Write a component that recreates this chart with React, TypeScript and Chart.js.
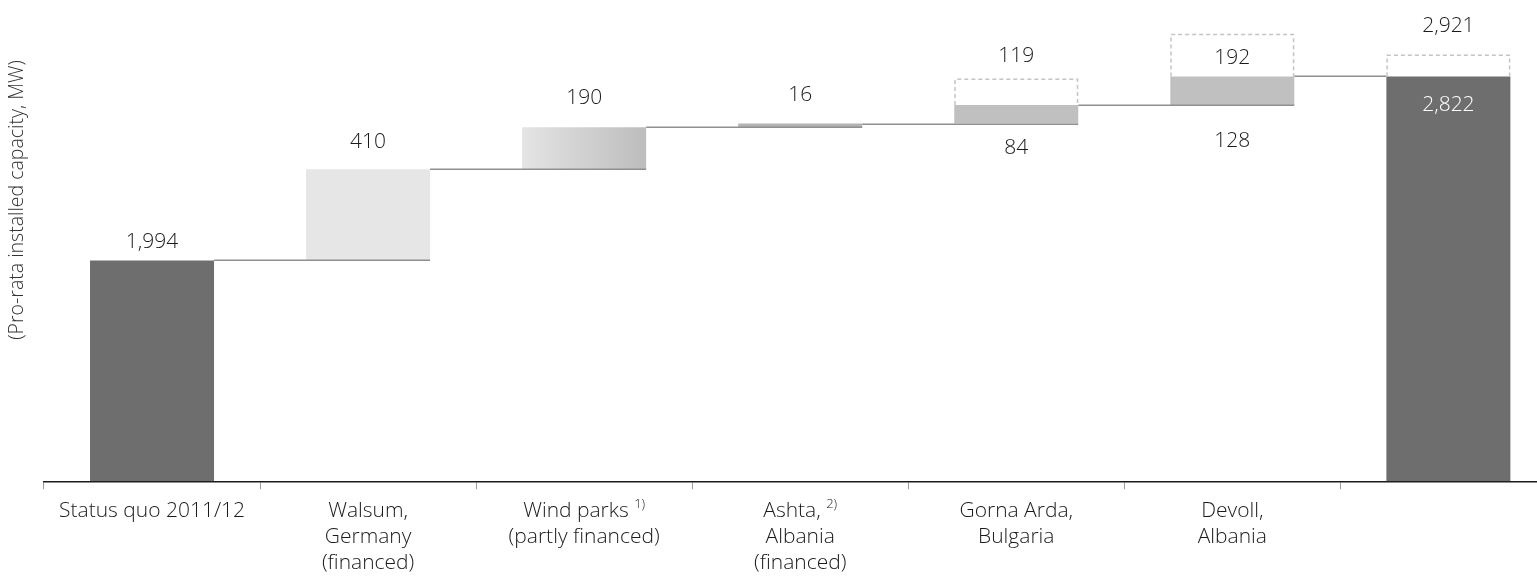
import React, { useEffect, useRef } from "react";
import { Chart, registerables } from "chart.js";

Chart.register(...registerables);

// ---------- data ----------
const CATEGORY_LINES: string[][] = [
  ["Status quo 2011/12"],
  ["Walsum,", "Germany", "(financed)"],
  ["Wind parks", "(partly financed)"],
  ["Ashta,", "Albania", "(financed)"],
  ["Gorna Arda,", "Bulgaria"],
  ["Devoll,", "Albania"],
  [""],
];
const FOOTNOTES: string[] = ["", "", "1)", "2)", "", "", ""];
const IS_TOTAL: boolean[] = [true, false, false, false, false, false, true];
const STEP_VALUES: number[] = [1994, 410, 190, 16, 84, 128, 2822];
const POTENTIAL_VALUES: (number | null)[] = [null, null, null, null, 119, 192, 99];
const UPPER_LABELS: string[] = ["1,994", "410", "190", "16", "119", "192", "2,921"];
const LOWER_LABELS: (string | null)[] = [null, null, null, null, "84", "128", "2,822"];
const Y_MIN = 1000;
const Y_MAX = 3100;
const Y_TITLE = "(Pro-rata installed capacity, MW)";

// ---------- styles ----------
const FONT = "'Open Sans', 'DejaVu Sans', sans-serif";
const BAR_COLORS = ["#6e6e6e", "#e6e6e6", "gradient", "#b4b4b4", "#c0c0c0", "#c0c0c0", "#6e6e6e"];
const UPPER_DY = [-18.5, -27.5, -29.5, -28.5, -22.5, 24.5, -28.5];
const LOWER_DY = [0, 0, 0, 0, 24.5, 36.5, 28.5];
const LOWER_COLORS = ["#1a1a1a", "#1a1a1a", "#1a1a1a", "#1a1a1a", "#1a1a1a", "#1a1a1a", "#ffffff"];

// derived floating ranges
const RANGES: [number, number][] = [];
{
  let run = 0;
  STEP_VALUES.forEach((v, i) => {
    if (IS_TOTAL[i]) {
      RANGES.push([Y_MIN, v]);
      run = v;
    } else {
      RANGES.push([run, run + v]);
      run += v;
    }
  });
}
const DASHED_RANGES: ([number, number] | null)[] = POTENTIAL_VALUES.map((p, i) =>
  p == null ? null : [RANGES[i][1], RANGES[i][1] + p]
);

const overlayPlugin = {
  id: "overlay",
  afterDatasetsDraw(chart: any) {
    const { ctx, chartArea } = chart;
    const xs = chart.scales.x;
    const ys = chart.scales.y;
    const solid = chart.getDatasetMeta(0).data;
    const dashed = chart.getDatasetMeta(1).data;
    ctx.save();

    // connectors
    ctx.strokeStyle = "#909090";
    ctx.lineWidth = 1.5;
    for (let i = 0; i < solid.length - 1; i++) {
      const a = solid[i];
      const b = solid[i + 1];
      const y = Math.round(ys.getPixelForValue(RANGES[i][1])) + 0.25;
      const x1 = a.x + a.width / 2;
      const x2 = IS_TOTAL[i + 1] ? b.x - b.width / 2 : b.x + b.width / 2;
      ctx.beginPath();
      ctx.moveTo(x1, y);
      ctx.lineTo(x2, y);
      ctx.stroke();
    }

    // dashed potential boxes
    ctx.setLineDash([4, 3]);
    ctx.strokeStyle = "#c4c4c4";
    ctx.lineWidth = 1.5;
    dashed.forEach((el: any, i: number) => {
      if (!DASHED_RANGES[i]) return;
      const l = el.x - el.width / 2 + 0.75;
      const r = el.x + el.width / 2 - 0.75;
      const top = el.y + 0.75;
      const bot = el.base;
      ctx.beginPath();
      ctx.moveTo(l, bot);
      ctx.lineTo(l, top);
      ctx.lineTo(r, top);
      ctx.lineTo(r, bot);
      ctx.stroke();
    });
    ctx.setLineDash([]);

    // value labels
    ctx.font = `300 21px ${FONT}`;
    ctx.textAlign = "center";
    ctx.textBaseline = "middle";
    UPPER_LABELS.forEach((lab, i) => {
      const x = xs.getPixelForValue(i);
      const topVal = DASHED_RANGES[i] ? DASHED_RANGES[i]![1] : RANGES[i][1];
      const y = ys.getPixelForValue(topVal) + UPPER_DY[i];
      ctx.fillStyle = "#1a1a1a";
      ctx.fillText(lab, x, y);
    });
    LOWER_LABELS.forEach((lab, i) => {
      if (!lab) return;
      const x = xs.getPixelForValue(i);
      const anchor = IS_TOTAL[i] ? RANGES[i][1] : RANGES[i][0];
      const y = ys.getPixelForValue(anchor) + LOWER_DY[i];
      ctx.fillStyle = LOWER_COLORS[i];
      ctx.fillText(lab, x, y);
    });

    // category labels (with footnote superscripts)
    ctx.textBaseline = "alphabetic";
    const baseY = chartArea.bottom + 35.7;
    const lineH = 26;
    CATEGORY_LINES.forEach((lines, i) => {
      const cx = xs.getPixelForValue(i);
      lines.forEach((line, k) => {
        const y = baseY + k * lineH;
        ctx.font = `300 21px ${FONT}`;
        if (k === 0 && FOOTNOTES[i]) {
          const mainW = ctx.measureText(line + " ").width;
          ctx.font = `300 13px ${FONT}`;
          const supW = ctx.measureText(FOOTNOTES[i]).width;
          const start = cx - (mainW + supW) / 2;
          ctx.textAlign = "left";
          ctx.font = `300 21px ${FONT}`;
          ctx.fillStyle = "#1a1a1a";
          ctx.fillText(line, start, y);
          ctx.font = `300 13px ${FONT}`;
          ctx.fillText(FOOTNOTES[i], start + mainW, y - 9);
          ctx.textAlign = "center";
        } else {
          ctx.textAlign = "center";
          ctx.fillStyle = "#1a1a1a";
          ctx.fillText(line, cx, y);
        }
      });
    });

    // y-axis title
    ctx.save();
    ctx.translate(17, 200);
    ctx.rotate(-Math.PI / 2);
    ctx.font = `300 19.5px ${FONT}`;
    ctx.fillStyle = "#333333";
    ctx.textAlign = "center";
    ctx.textBaseline = "middle";
    ctx.fillText(Y_TITLE, 0, 0);
    ctx.restore();

    ctx.restore();
  },
};

export default function App() {
  const canvasRef = useRef<HTMLCanvasElement | null>(null);

  useEffect(() => {
    if (!canvasRef.current) return;
    const chart = new Chart(canvasRef.current, {
      type: "bar",
      data: {
        labels: CATEGORY_LINES.map((l) => l.join(" ")),
        datasets: [
          {
            label: "Installed",
            data: RANGES as any,
            grouped: false,
            barPercentage: 0.574,
            categoryPercentage: 1,
            borderWidth: 0,
            backgroundColor: (c: any) => {
              const i = c.dataIndex;
              const col = BAR_COLORS[i];
              if (col !== "gradient") return col;
              const chart = c.chart;
              const xs = chart.scales && chart.scales.x;
              if (!xs || !chart.chartArea) return "#d2d2d2";
              const cx = xs.getPixelForValue(i);
              const cw = xs.getPixelForValue(1) - xs.getPixelForValue(0);
              const w = cw * 0.574;
              const g = chart.ctx.createLinearGradient(cx - w / 2, 0, cx + w / 2, 0);
              g.addColorStop(0, "#e4e4e4");
              g.addColorStop(1, "#bdbdbd");
              return g;
            },
          },
          {
            label: "Potential",
            data: DASHED_RANGES as any,
            grouped: false,
            barPercentage: 0.574,
            categoryPercentage: 1,
            borderWidth: 0,
            backgroundColor: "rgba(0,0,0,0)",
          },
        ],
      },
      options: {
        animation: false,
        responsive: true,
        maintainAspectRatio: false,
        layout: { padding: { left: 44, right: 3.6, top: 14.7, bottom: 88.7 } },
        plugins: {
          legend: { display: false },
          tooltip: { enabled: false },
        },
        scales: {
          x: {
            type: "category",
            offset: true,
            grid: {
              offset: true,
              drawOnChartArea: false,
              drawTicks: true,
              tickLength: 8,
              color: "#9a9a9a",
              lineWidth: 1,
            },
            border: { display: true, color: "#1a1a1a", width: 1.5 },
            ticks: { display: false },
          },
          y: {
            type: "linear",
            display: false,
            min: Y_MIN,
            max: Y_MAX,
          },
        },
      },
      plugins: [overlayPlugin],
    });
    return () => chart.destroy();
  }, []);

  return (
    <div
      style={{
        position: "fixed",
        left: 0,
        top: 0,
        width: "1537px",
        height: "578px",
        overflow: "hidden",
        background: "#ffffff",
      }}
    >
      <div style={{ position: "relative", width: "1560px", height: "578px" }}>
        <canvas ref={canvasRef} />
      </div>
    </div>
  );
}
